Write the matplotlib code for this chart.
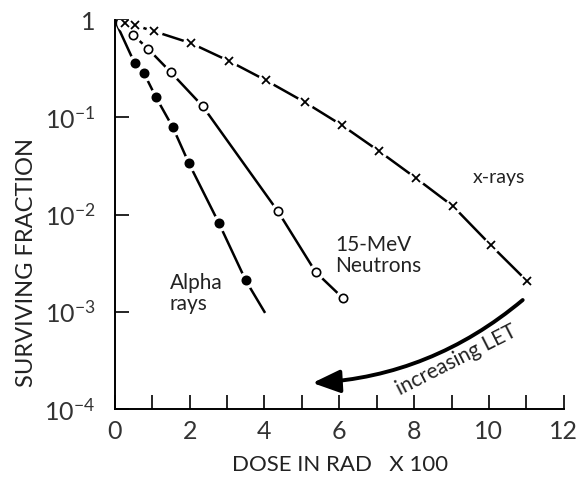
import numpy as np
import matplotlib
matplotlib.use("Agg")
import matplotlib.pyplot as plt
from matplotlib.patches import FancyArrowPatch

plt.rcParams['font.family'] = ['Lato', 'DejaVu Sans']
plt.rcParams['mathtext.default'] = 'regular'

# data (dose in rad x 100, surviving fraction)
xray_dose = [0.27, 0.53, 1.04, 2.03, 3.05, 4.04, 5.08, 6.07, 7.06, 8.05, 9.04, 10.05, 11.02]
xray_surv = [0.93, 0.885, 0.77, 0.58, 0.38, 0.24, 0.143, 0.083, 0.045, 0.0237, 0.0122, 0.00485, 0.00207]

neut_dose = [0.48, 0.88, 1.50, 2.35, 4.36, 5.37, 6.10]
neut_surv = [0.71, 0.51, 0.29, 0.13, 0.0108, 0.00256, 0.00138]

alpha_dose = [0.53, 0.78, 1.10, 1.55, 1.98, 2.78, 3.50]
alpha_surv = [0.36, 0.284, 0.161, 0.079, 0.0337, 0.0082, 0.0021]
alpha_end = (4.0, 1.0e-3)   # where the alpha curve stops

x_ticks = [0, 2, 4, 6, 8, 10, 12]
y_ticks = [1e-4, 1e-3, 1e-2, 1e-1, 1]
y_labels = ['$10^{-4}$', '$10^{-3}$', '$10^{-2}$', '$10^{-1}$', '1']

fig = plt.figure(figsize=(5.77, 4.79), dpi=100)
ax = fig.add_axes([0.199, 0.146, 0.778, 0.812])

def curve(xs, ys, marker, face, extra=None):
    cx = [0] + xs + ([extra[0]] if extra else [])
    cy = [1] + ys + ([extra[1]] if extra else [])
    ax.plot(cx, cy, color='black', lw=1.8, zorder=2)
    # white halo so the line looks broken around each point
    ax.plot(xs, ys, 'o', ms=11, color='white', mec='white', zorder=3)
    if marker == 'x':
        ax.plot(xs, ys, 'x', ms=6, color='black', mew=1.3, zorder=4)
    else:
        ax.plot(xs, ys, 'o', ms=6, mfc=face, mec='black', mew=1.2, zorder=4)

curve(xray_dose, xray_surv, 'x', 'black')
curve(neut_dose, neut_surv, 'o', 'white')
curve(alpha_dose, alpha_surv, 'o', 'black', alpha_end)

ax.set_yscale('log')
ax.set_xlim(0, 12)
ax.set_ylim(1e-4, 1)
ax.set_xticks(x_ticks)
ax.set_xticks(range(0, 13), minor=True)
ax.set_yticks(y_ticks)
ax.set_yticklabels(y_labels)
ax.yaxis.set_minor_locator(matplotlib.ticker.NullLocator())
ax.tick_params(axis='both', which='both', direction='in', length=10, width=1.2,
               labelsize=18, labelcolor='#333333')
ax.tick_params(axis='x', pad=8)
ax.tick_params(axis='y', pad=14)

for s in ['top', 'right']:
    ax.spines[s].set_visible(False)
for s in ['left', 'bottom']:
    ax.spines[s].set_linewidth(1.4)

ax.set_ylabel('SURVIVING FRACTION', fontsize=17, color='#222222')
ax.yaxis.set_label_coords(-0.174, 0.378)
ax.set_xlabel('DOSE IN RAD   X 100', fontsize=16, color='#222222')
ax.xaxis.set_label_coords(0.502, -0.118)

ax.text(10.27, 10**-1.616, 'x-rays', fontsize=14, ha='center', va='center', color='#222222')
ax.text(5.88, 10**-2.417, '15-MeV\nNeutrons', fontsize=15, ha='left', va='center',
        linespacing=1.05, color='#222222')
ax.text(1.47, 10**-2.81, 'Alpha\nrays', fontsize=15, ha='left', va='center',
        linespacing=1.05, color='#222222')
ax.text(9.14, 10**-3.50, 'increasing LET', fontsize=15, ha='center', va='center',
        rotation=27, color='#222222')

arrow = FancyArrowPatch((10.96, 1.38e-3), (5.21, 1.85e-4), connectionstyle='arc3,rad=-0.17',
                        arrowstyle='-|>,head_length=1.2,head_width=0.5', mutation_scale=14,
                        lw=2.8, color='black')
ax.add_patch(arrow)

fig.savefig('out.png', dpi=100)
